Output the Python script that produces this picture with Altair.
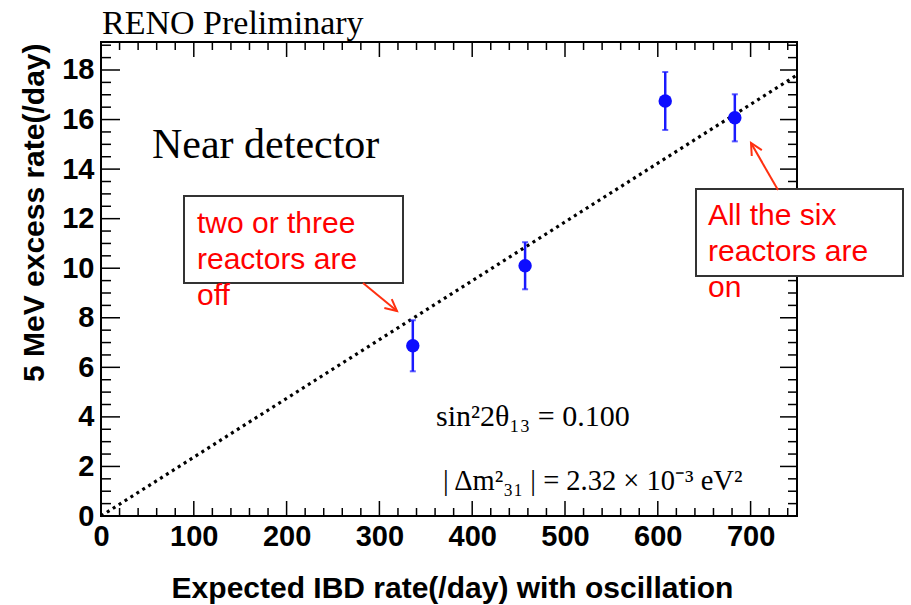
import altair as alt
import pandas as pd

# ---- data ----
expected_ibd = [336, 457, 608, 683]
excess_rate = [6.87, 10.10, 16.75, 16.07]
excess_err = [1.03, 0.95, 1.17, 0.95]
fit_x = [0, 750]
fit_y = [0, 17.8]

x_major = list(range(0, 701, 100))
x_minor = [v for v in range(0, 751, 20) if v % 100 != 0]
y_major = list(range(0, 19, 2))
y_minor = [v / 2 for v in range(0, 39) if v % 4 != 0]

W, H = 696, 474
xs = alt.Scale(domain=[0, 750], nice=False, zero=False)
ys = alt.Scale(domain=[0, 19.13], nice=False, zero=False)

pts = pd.DataFrame({"x": expected_ibd, "y": excess_rate, "e": excess_err})
pts["lo"] = pts["y"] - pts["e"]
pts["hi"] = pts["y"] + pts["e"]
fit = pd.DataFrame({"x": fit_x, "y": fit_y})
one = pd.DataFrame({"a": [0]})

x_axis = alt.Axis(values=x_major, format="d", ticks=False, domain=False, grid=False,
                  labelFont="Liberation Sans", labelFontWeight="bold", labelFontSize=29,
                  labelPadding=6, labelColor="black", labelFlush=False, labelOverlap=False,
                  title="Expected IBD rate(/day) with oscillation", titleFont="Liberation Sans",
                  titleFontWeight="bold", titleFontSize=30, titleColor="black",
                  titleX=351, titleY=81, titleAlign="center", titleBaseline="alphabetic")
y_axis = alt.Axis(values=y_major, format="d", ticks=False, domain=False, grid=False,
                  labelFont="Liberation Sans", labelFontWeight="bold", labelFontSize=29,
                  labelPadding=7, labelColor="black", labelFlush=False, labelOverlap=False,
                  title="5 MeV excess rate(/day)", titleFont="Liberation Sans",
                  titleFontWeight="bold", titleFontSize=30, titleColor="black",
                  titleAngle=270, titleAlign="right", titleX=-58, titleY=1,
                  titleBaseline="alphabetic")


def X(field):
    return alt.X(field, scale=xs, axis=x_axis)


def Y(field):
    return alt.Y(field, scale=ys, axis=y_axis)


fit_line = alt.Chart(fit).mark_line(color="black", strokeDash=[3, 4], strokeWidth=3.2).encode(
    x=X("x:Q"), y=Y("y:Q"))

blue = "#1a1aff"
err = alt.Chart(pts).mark_rule(color=blue, strokeWidth=2.5).encode(
    x=X("x:Q"), y=Y("lo:Q"), y2="hi:Q")
cap_lo = alt.Chart(pts).mark_tick(orient="horizontal", size=6, thickness=2, color=blue).encode(
    x=X("x:Q"), y=Y("lo:Q"))
cap_hi = alt.Chart(pts).mark_tick(orient="horizontal", size=6, thickness=2, color=blue).encode(
    x=X("x:Q"), y=Y("hi:Q"))
dots = alt.Chart(pts).mark_circle(size=180, color="#0d0dff", opacity=1).encode(
    x=X("x:Q"), y=Y("y:Q"))


def xticks(vals, y0, y1):
    return alt.Chart(pd.DataFrame({"x": vals})).mark_rule(color="black", strokeWidth=1.5).encode(
        x=X("x:Q"), y=alt.value(y0), y2=alt.value(y1))


def yticks(vals, x0, x1):
    return alt.Chart(pd.DataFrame({"y": vals})).mark_rule(color="black", strokeWidth=1.5).encode(
        y=Y("y:Q"), x=alt.value(x0), x2=alt.value(x1))


ticks = [
    xticks(x_major, H, H - 15), xticks(x_minor, H, H - 8),
    xticks(x_major, 0, 15), xticks(x_minor, 0, 8),
    yticks(y_major, 0, 19), yticks(y_minor, 0, 10),
    yticks(y_major, W, W - 17), yticks(y_minor, W, W - 9),
]


def label(text, x, y, font, size, color="black", weight="normal", line_height=None):
    kw = dict(text=text, font=font, fontSize=size, color=color, fontWeight=weight,
              align="left", baseline="alphabetic")
    if line_height:
        kw["lineHeight"] = line_height
    return alt.Chart(one).mark_text(**kw).encode(x=alt.value(x), y=alt.value(y))


def box(x0, x1, y0, y1):
    return alt.Chart(one).mark_rect(fill="white", stroke="#333333", strokeWidth=2).encode(
        x=alt.value(x0), x2=alt.value(x1), y=alt.value(y0), y2=alt.value(y1))


red = "#ff0000"
arrow_c = "#ff3010"


def arrow(x0, y0, x1, y1, ang):
    shaft = alt.Chart(one).mark_rule(color=arrow_c, strokeWidth=2).encode(
        x=alt.value(x0), y=alt.value(y0), x2=alt.value(x1), y2=alt.value(y1))
    head = alt.Chart(one).mark_point(shape="M -0.5 1 L 0 0 L 0.5 1", filled=False, size=540,
                                     strokeWidth=2, color=arrow_c, opacity=1, angle=ang).encode(
        x=alt.value(x1), y=alt.value(y1))
    return [shaft, head]


annots = [
    label("RENO Preliminary", 1, -8, "Liberation Serif", 34),
    label("Near detector", 51, 116, "Liberation Serif", 42),
    label("sin²2θ₁₃ = 0.100", 335, 384, "Liberation Serif", 30),
    label("| Δm²₃₁ | = 2.32 × 10⁻³ eV²", 342, 448, "Liberation Serif", 28.5),
    box(83, 302, 154, 241),
    label(["two or three", "reactors are", "off"], 96, 191, "Liberation Sans", 30, red, line_height=36),
    box(595, 802, 147, 234),
    label(["All the six", "reactors are", "on"], 607, 183, "Liberation Sans", 30, red, line_height=36),
]
annots += arrow(262, 241, 296, 269, 129.5)
annots += arrow(677, 148, 650, 101, 330)

chart = alt.layer(fit_line, *ticks, err, cap_lo, cap_hi, dots, *annots).properties(
    width=W, height=H, autosize="none",
    padding={"left": 101, "top": 42, "right": 114, "bottom": 89},
    background="white",
).configure_view(stroke="black", strokeWidth=2)

chart.save("out.html", embed_options={"renderer": "svg", "actions": False})
